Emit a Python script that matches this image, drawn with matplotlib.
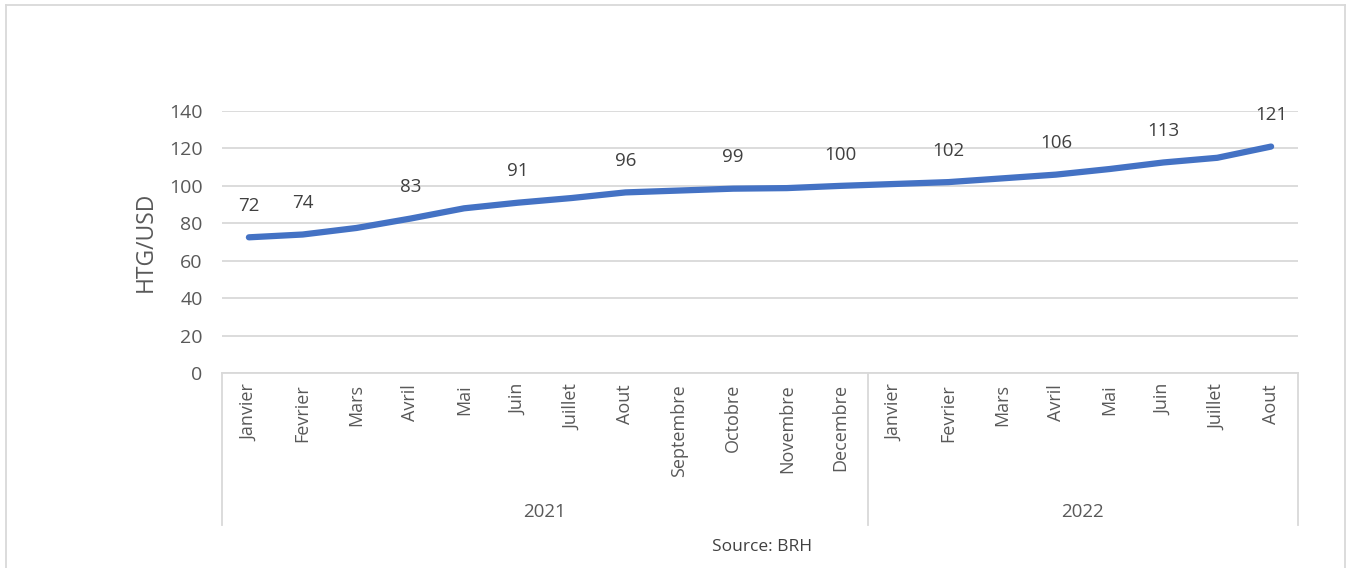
import matplotlib
matplotlib.use("Agg")
import matplotlib.pyplot as plt
from matplotlib.lines import Line2D

months = ["Janvier", "Fevrier", "Mars", "Avril", "Mai", "Juin", "Juillet", "Aout",
          "Septembre", "Octobre", "Novembre", "Decembre",
          "Janvier", "Fevrier", "Mars", "Avril", "Mai", "Juin", "Juillet", "Aout"]
years = ["2021", "2022"]
year_counts = [12, 8]
rate = [72.5, 74, 77.5, 82.5, 88, 91, 93.5, 96.5, 97.5, 98.5, 98.8, 100,
        101, 102, 104, 106, 109, 112.5, 115, 121]
shown_labels = ["72", "74", None, "83", None, "91", None, "96", None, "99", None, "100",
                None, "102", None, "106", None, "113", None, "121"]
yticks = [0, 20, 40, 60, 80, 100, 120, 140]

plt.rcParams['font.family'] = ['Open Sans', 'DejaVu Sans']
W, H = 1348, 568
fig = plt.figure(figsize=(W / 100, H / 100), dpi=100)
ax = fig.add_axes([222 / W, 1 - 373 / H, (1298 - 222) / W, (373 - 111) / H])

x = list(range(len(months)))
ax.plot(x, rate, color="#4472C4", lw=4.5, solid_capstyle="round", zorder=3)
for xi, v, lab in zip(x, rate, shown_labels):
    if lab is not None:
        ax.annotate(lab, (xi, v), xytext=(0, 22.5), textcoords="offset points",
                    ha="center", va="center", fontsize=13.5, color="#404040")

ax.set_xlim(-0.5, len(months) - 0.5)
ax.set_ylim(0, 140)
ax.set_yticks(yticks)
ax.set_yticklabels([str(t) for t in yticks], fontsize=14, color="#595959")
ax.yaxis.grid(True, color="#d9d9d9", lw=1.3)
ax.set_axisbelow(True)
for s in ["top", "right", "left"]:
    ax.spines[s].set_visible(False)
ax.spines["bottom"].set_color("#d9d9d9")
ax.spines["bottom"].set_linewidth(1.3)
ax.tick_params(axis="y", length=0, pad=14)
ax.set_xticks(x)
ax.set_xticklabels(months, rotation=90, fontsize=13, color="#595959", va="top")
ax.tick_params(axis="x", length=0, pad=8)
ax.set_ylabel("HTG/USD", fontsize=16.5, color="#595959", labelpad=8)

# group separators and year labels
trans = ax.get_xaxis_transform()
sep_bottom = -(525 - 373) / (373 - 111)
start = 0
bounds = [-0.5]
for yr, n in zip(years, year_counts):
    center = start + (n - 1) / 2
    ax.text(center, -(512 - 373) / (373 - 111), yr, transform=trans, ha="center",
            va="center", fontsize=13.5, color="#595959")
    start += n
    bounds.append(start - 0.5)
for b in bounds:
    ax.add_line(Line2D([b, b], [0, sep_bottom], transform=trans, color="#d9d9d9",
                       lw=1.3, clip_on=False))

fig.text(762 / W, 1 - 547 / H, "Source: BRH", ha="center", va="center",
         fontsize=12.5, color="#404040")

# chart border
bc = "#d9d9d9"
fig.add_artist(Line2D([6 / W, 6 / W], [0, 1 - 5 / H], color=bc, lw=1.3, transform=fig.transFigure))
fig.add_artist(Line2D([6 / W, 1345 / W], [1 - 5 / H, 1 - 5 / H], color=bc, lw=1.3, transform=fig.transFigure))
fig.add_artist(Line2D([1345 / W, 1345 / W], [0, 1 - 5 / H], color=bc, lw=1.3, transform=fig.transFigure))

fig.savefig("out.png", dpi=100)
